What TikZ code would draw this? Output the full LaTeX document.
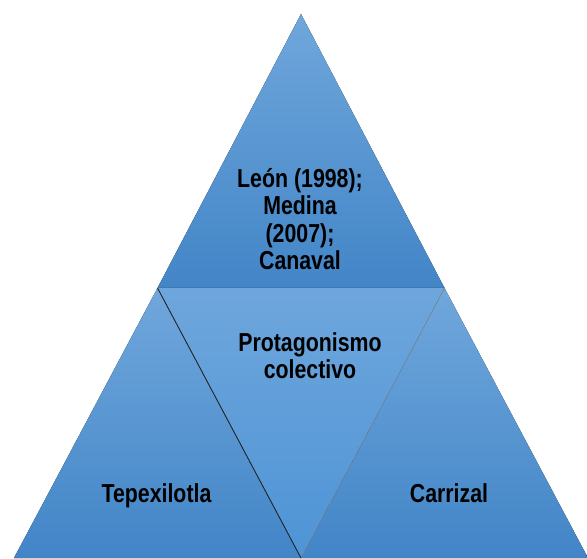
\documentclass[tikz,border=0pt]{standalone}
\usepackage{fontspec}
\setmainfont{Liberation Sans}[FakeStretch=0.82]
\usetikzlibrary{positioning, calc}

\definecolor{segtop}{RGB}{112,167,220}
\definecolor{segbot}{RGB}{66,133,199}
\definecolor{midtop}{RGB}{110,166,220}
\definecolor{midbot}{RGB}{78,148,214}

\begin{document}
\begin{tikzpicture}[
  x = 1pt, y = 1pt,
  every node/.style = {font=\fontsize{26}{27.3}\selectfont\bfseries},
  seg/.style   = {top color=segtop, bottom color=segbot, draw=none},
  midseg/.style = {top color=midtop, bottom color=midbot, draw=none},
  lab/.style   = {align=center, inner sep=0pt, text=black},
  edge/.style  = {draw=black!85, line width=0.9pt},
  faint/.style = {draw=black!45, line width=0.3pt}
]
\useasboundingbox (0,0) rectangle (587,558);

% ---- corners of the pyramid ----------------------------------------------
\coordinate (apex)  at (301,544);
\coordinate (bl)    at (14,0);
\coordinate (br)    at (588,0);
\coordinate (ml)    at (157.5,270);
\coordinate (mr)    at (444.5,270);
\coordinate (bm)    at (301,0);

% ---- four segments --------------------------------------------------------
\fill[seg]    (apex) -- (ml) -- (mr) -- cycle;
\fill[seg]    (ml) -- (bl) -- (bm) -- cycle;
\fill[seg]    (mr) -- (bm) -- (br) -- cycle;
\fill[midseg] (ml) -- (mr) -- (bm) -- cycle;

\draw[edge]  (ml) -- (bm);
\draw[faint] (mr) -- (bm);

% ---- labels ---------------------------------------------------------------
\node[lab, at={(300,339)}] (autores) {León (1998);\\Medina\\(2007);\\Canaval};
\node[lab, at={(310,202)}] (prota)   {Protagonismo\\colectivo};
\node[lab, anchor=base, at={(156.5,55.5)}] (tepe) {Tepexilotla};
\node[lab, anchor=base, at={(449,55.5)}]   (carr) {Carrizal};

\end{tikzpicture}
\end{document}
